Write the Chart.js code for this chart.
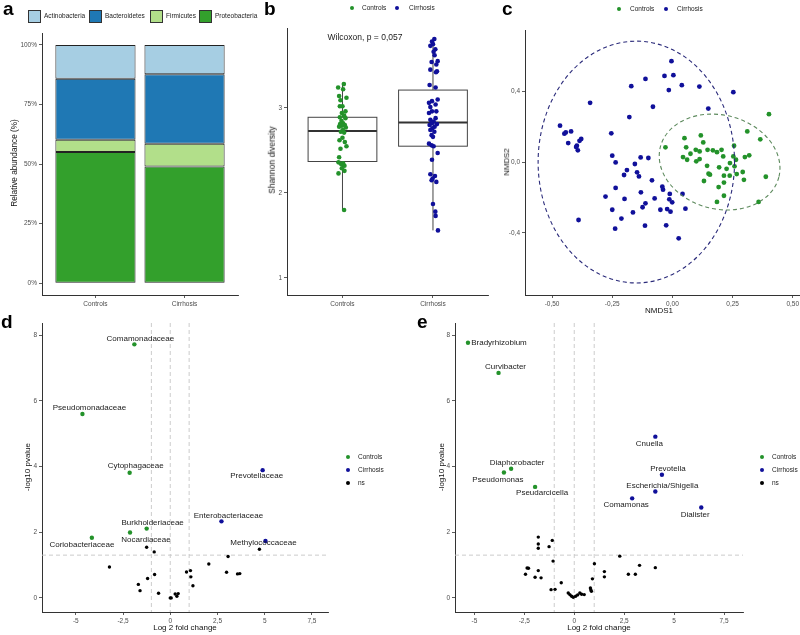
<!DOCTYPE html>
<html><head><meta charset="utf-8">
<script src="https://cdn.jsdelivr.net/npm/chart.js@4.4.0/dist/chart.umd.min.js"></script>
<style>
html,body{margin:0;padding:0;background:#fff;overflow:hidden;width:800px;height:635px;}
body{position:relative;font-family:"Liberation Sans",Arial,Helvetica,sans-serif;}
.t{position:absolute;white-space:nowrap;color:#111;line-height:1;}
.rot{transform:translate(-50%,-50%) rotate(-90deg);}
.ctr{transform:translate(-50%,-50%);}
.lv{transform:translate(0,-50%);}
.lab{position:absolute;font-weight:bold;font-size:19px;line-height:19px;color:#000;}
.dot{position:absolute;border-radius:50%;width:4px;height:4px;transform:translate(-50%,-50%);}
.box{position:absolute;width:11px;height:11px;border:1px solid #333;}
</style></head><body>
<script>
// ---------------- DATA ----------------
// Panel a: relative abundance
const groups = ['Controls', 'Cirrhosis'];
const phyla = ['Proteobacteria', 'Firmicutes', 'Bacteroidetes', 'Actinobacteria'];
const proteobacteria = [0.55, 0.49];
const firmicutes = [0.052, 0.095];
const bacteroidetes = [0.256, 0.292];
const actinobacteria = [0.142, 0.123];
const pctTickVals = [0, 0.25, 0.5, 0.75, 1];
const pctTickLabels = ['0%', '25%', '50%', '75%', '100%'];

// Panel b: Shannon diversity
const shannonControls = [3.28,3.24,3.22,3.14,3.12,3.09,3.02,3.02,2.96,2.94,2.91,2.89,2.88,2.85,2.82,2.81,2.80,2.79,2.78,2.77,2.74,2.72,2.71,2.65,2.62,2.60,2.55,2.52,2.42,2.36,2.35,2.34,2.32,2.29,2.26,2.23,1.80];
const jitterControls = [0.015,-0.048,0.007,-0.037,0.044,-0.022,0,-0.029,0.033,-0.007,0.018,-0.029,0.033,-0.011,0.007,-0.026,0.026,-0.007,-0.037,0.037,0.004,-0.018,0.018,0,-0.033,0.026,0.044,-0.022,-0.037,-0.044,0.007,-0.015,0.022,-0.007,0.022,-0.044,0.018];
const shannonCirrhosis = [3.81,3.78,3.75,3.73,3.69,3.66,3.62,3.55,3.54,3.51,3.45,3.43,3.42,3.27,3.24,3.10,3.08,3.06,3.04,3.01,2.96,2.96,2.94,2.88,2.86,2.84,2.82,2.81,2.80,2.78,2.76,2.74,2.72,2.68,2.66,2.58,2.56,2.55,2.47,2.39,2.22,2.20,2.17,2.15,2.13,1.87,1.78,1.73,1.56];
const jitterCirrhosis = [0.015,-0.011,0,-0.029,0.026,0.007,0.018,0.052,-0.015,0.037,-0.029,0.044,0.033,-0.037,0.029,0.052,-0.011,-0.044,0.029,-0.029,0.037,-0.011,-0.044,0.029,-0.029,0.007,-0.011,0.044,-0.037,0.018,-0.007,-0.029,0.015,-0.015,0,-0.044,-0.015,0.007,0.052,-0.011,-0.029,0.022,-0.004,-0.015,0.037,0,0.026,0.029,0.055];
const boxQ1 = [2.37, 2.55];
const boxMedian = [2.73, 2.83];
const boxQ3 = [2.89, 3.21];
const whiskerLow = [1.80, 1.56];
const whiskerHigh = [3.28, 3.81];
const shannonTickVals = [1, 2, 3];
const shannonTickLabels = ['1', '2', '3'];

// Panel c: NMDS
const nmdsCtrlX = [0.401,0.311,0.365,0.388,0.358,-0.029,0.050,0.118,0.128,0.057,0.044,0.061,0.075,0.097,0.113,0.099,0.113,0.146,0.168,0.185,0.204,0.211,0.256,0.253,0.264,0.301,0.319,0.144,0.150,0.156,0.194,0.225,0.239,0.214,0.238,0.267,0.292,0.297,0.131,0.192,0.214,0.214,0.185,0.258];
const nmdsCtrlY = [0.270,0.173,0.128,-0.083,-0.225,0.083,0.135,0.150,0.111,0.083,0.028,0.013,0.047,0.069,0.060,0.004,0.017,0.069,0.066,0.056,0.069,0.032,0.092,0.032,0.013,0.028,0.038,-0.021,-0.066,-0.071,-0.030,-0.038,-0.006,-0.077,-0.077,-0.068,-0.056,-0.100,-0.107,-0.141,-0.116,-0.190,-0.225,-0.024];
const nmdsCirrX = [-0.004,-0.033,0.004,-0.112,-0.015,0.039,0.112,0.253,-0.171,-0.342,-0.081,0.149,-0.179,-0.467,-0.421,-0.449,-0.443,-0.433,-0.397,-0.379,-0.386,-0.400,-0.393,-0.254,-0.250,-0.236,-0.189,-0.201,-0.156,-0.132,-0.100,-0.147,-0.139,-0.085,-0.236,-0.278,-0.199,-0.131,-0.112,-0.124,-0.074,-0.042,-0.039,-0.011,0.042,-0.013,-0.001,-0.250,-0.164,-0.050,-0.022,-0.008,0.054,-0.212,-0.390,-0.238,-0.114,-0.026,0.026];
const nmdsCirrY = [0.569,0.486,0.490,0.469,0.406,0.434,0.426,0.394,0.428,0.334,0.312,0.302,0.254,0.205,0.173,0.160,0.167,0.107,0.092,0.130,0.120,0.085,0.066,0.162,0.036,-0.002,-0.045,-0.073,-0.011,0.026,0.023,-0.058,-0.081,-0.103,-0.146,-0.195,-0.208,-0.171,-0.233,-0.255,-0.205,-0.139,-0.156,-0.180,-0.180,-0.210,-0.227,-0.269,-0.284,-0.269,-0.265,-0.280,-0.263,-0.319,-0.327,-0.376,-0.359,-0.357,-0.430];
// ellipses: [centerX, centerY, radiusX, radiusY, tilt]
const ellipseCirrhosis = [-0.15, 0.0, 0.408, 0.682, 0];
const ellipseControls = [0.196, 0.0, 0.254, 0.265, 0.25];
const nmds1TickVals = [-0.5, -0.25, 0, 0.25, 0.5];
const nmds1TickLabels = ['-0,50', '-0,25', '0,00', '0,25', '0,50'];
const nmds2TickVals = [-0.4, 0, 0.4];
const nmds2TickLabels = ['-0,4', '0,0', '0,4'];

// Panel d: family-level volcano
const dCtrlNames = ['Comamonadaceae','Pseudomonadaceae','Cytophagaceae','Burkholderiaceae','Nocardiaceae','Coriobacteriaceae'];
const dCtrlX = [-1.90,-4.65,-2.15,-1.25,-2.13,-4.15];
const dCtrlY = [7.72,5.60,3.81,2.11,1.99,1.83];
const dCirrNames = ['Prevotellaceae','Enterobacteriaceae','Methylococcaceae'];
const dCirrX = [4.89,2.71,5.04];
const dCirrY = [3.89,2.33,1.73];
const dNsX = [4.72,-1.25,-0.85,3.06,2.04,-3.22,1.07,0.86,2.98,3.56,3.68,-0.83,1.09,-1.20,1.20,-1.69,-1.60,-0.62,0.26,0.42,0.35,0.0,0.05];
const dNsY = [1.48,1.54,1.40,1.26,1.03,0.94,0.83,0.79,0.78,0.73,0.74,0.71,0.64,0.59,0.37,0.41,0.22,0.14,0.12,0.13,0.05,0.0,0.0];

// Panel e: genus-level volcano
const eCtrlNames = ['Bradyrhizobium','Curvibacter','Diaphorobacter','Pseudomonas','Pseudarcicella'];
const eCtrlX = [-5.32,-3.79,-3.16,-3.52,-1.96];
const eCtrlY = [7.77,6.85,3.93,3.82,3.38];
const eCirrNames = ['Cnuella','Prevotella','Escherichia/Shigella','Comamonas','Dialister'];
const eCirrX = [4.06,4.39,4.06,2.90,6.36];
const eCirrY = [4.91,3.75,3.24,3.03,2.75];
const eNsX = [-1.80,-1.80,-1.80,-1.10,-1.26,2.28,-1.06,1.01,3.27,4.06,-2.36,-2.29,-1.80,1.51,-2.44,2.71,3.06,-1.96,-1.66,1.51,0.91,-0.65,-1.16,-0.96,0.81,0.83,0.86,-0.30,-0.22,-0.13,-0.05,0.07,0.17,0.28,0.37,0.50];
const eNsY = [1.85,1.64,1.51,1.75,1.56,1.27,1.12,1.04,0.99,0.92,0.91,0.90,0.83,0.80,0.72,0.72,0.72,0.63,0.61,0.64,0.58,0.46,0.25,0.26,0.30,0.25,0.20,0.15,0.10,0.05,0.02,0.05,0.09,0.15,0.11,0.10];

const fcTickVals = [-5, -2.5, 0, 2.5, 5, 7.5];
const fcTickLabels = ['-5', '-2,5', '0', '2,5', '5', '7,5'];
const pTickVals = [0, 2, 4, 6, 8];
const pTickLabels = ['0', '2', '4', '6', '8'];
const fcThresholds = [-1, 0, 1];
const pThreshold = 1.301;

// ---------------- STYLE / LAYOUT ----------------
const FONT = '"Liberation Sans", Arial, Helvetica, sans-serif';
const GREEN = '#23922a';
const BLUE = '#10109a';
const phylaColors = ['#33a02c', '#b2df8a', '#1f78b4', '#a6cee3'];
// label offsets in pixels relative to the point
const dCtrlOff = [[6,-6],[7,-6],[6,-7],[6,-6],[16,7],[-10,7]];
const dCirrOff = [[-6,6],[7,-6],[-2,2]];
const eCtrlOff = [[31,0],[7,-6],[6,-6],[-6,7],[7,6]];
const eCirrOff = [[-6,7],[6,-6],[7,-6],[-6,6],[-6,7]];

Chart.defaults.font.family = FONT;
Chart.defaults.animation = false;
Chart.defaults.plugins.legend.display = false;
Chart.defaults.plugins.tooltip.enabled = false;

function mk(L, T, W, H) {
  const c = document.createElement('canvas');
  c.width = W; c.height = H;
  c.style.cssText = `position:absolute;left:${L}px;top:${T}px;width:${W}px;height:${H}px`;
  document.body.appendChild(c);
  return c;
}
function linAxis(o) {
  return {
    type: 'linear', position: o.pos, min: o.min, max: o.max, bounds: 'data', offset: false,
    stacked: !!o.stacked,
    grid: {display: true, offset: false, drawOnChartArea: false, drawTicks: true, tickLength: 3, color: '#333', lineWidth: 0.8},
    border: {display: true, color: '#333', width: 1},
    ticks: {autoSkip: false, maxRotation: 0, minRotation: 0, padding: 2, color: '#4d4d4d',
      font: {size: 6.5, family: FONT}, callback: (v, i) => o.labels[i]},
    afterBuildTicks: s => { s.ticks = o.vals.map(v => ({value: v})); },
    afterFit: s => { if (o.pos === 'bottom') s.height = o.fit; else s.width = o.fit; }
  };
}
function pts(xs, ys) { return xs.map((x, i) => ({x: x, y: ys[i]})); }
function scat(data, color, r) {
  return {type: 'scatter', data: data, pointRadius: r, pointBorderWidth: 0, pointBackgroundColor: color, showLine: false};
}
const common = {responsive: false, animation: false, events: []};

// ---------------- PANEL A ----------------
{
  const L = 0, T = 0, W = 250, H = 315;
  const series = [proteobacteria, firmicutes, bacteroidetes, actinobacteria];
  new Chart(mk(L, T, W, H), {
    type: 'bar',
    data: {datasets: series.map((s, k) => ({
      label: phyla[k], data: groups.map((g, j) => ({x: j + 1, y: s[j]})),
      backgroundColor: phylaColors[k], borderColor: '#222', borderWidth: 1, borderSkipped: false,
      barPercentage: 0.9, categoryPercentage: 1
    }))},
    options: Object.assign({}, common, {
      layout: {padding: {top: 33, right: 12, left: 0, bottom: 0}},
      scales: {
        x: linAxis({pos: 'bottom', min: 0.4, max: 2.6, vals: [1, 2], labels: groups, fit: H - 295, stacked: true}),
        y: linAxis({pos: 'left', min: -0.05, max: 1.05, vals: pctTickVals, labels: pctTickLabels, fit: 42, stacked: true})
      }
    })
  });
}

// ---------------- PANEL B ----------------
{
  const L = 250, T = 0, W = 255, H = 315;
  const boxPlugin = {
    id: 'boxes',
    beforeDatasetsDraw(chart) {
      const c = chart.ctx, xs = chart.scales.x, ys = chart.scales.y;
      c.save();
      for (let i = 0; i < 2; i++) {
        const cx = xs.getPixelForValue(i + 1);
        const x0 = xs.getPixelForValue(i + 1 - 0.38), x1 = xs.getPixelForValue(i + 1 + 0.38);
        const q1 = ys.getPixelForValue(boxQ1[i]), q3 = ys.getPixelForValue(boxQ3[i]);
        const md = ys.getPixelForValue(boxMedian[i]);
        c.strokeStyle = '#444'; c.lineWidth = 1;
        c.beginPath();
        c.moveTo(cx, ys.getPixelForValue(whiskerHigh[i])); c.lineTo(cx, q3);
        c.moveTo(cx, q1); c.lineTo(cx, ys.getPixelForValue(whiskerLow[i]));
        c.stroke();
        c.fillStyle = '#fff';
        c.fillRect(x0, q3, x1 - x0, q1 - q3);
        c.strokeRect(x0, q3, x1 - x0, q1 - q3);
        c.strokeStyle = '#333'; c.lineWidth = 2;
        c.beginPath(); c.moveTo(x0, md); c.lineTo(x1, md); c.stroke();
      }
      c.restore();
    }
  };
  new Chart(mk(L, T, W, H), {
    type: 'scatter',
    data: {datasets: [
      scat(shannonControls.map((v, i) => ({x: 1 + jitterControls[i], y: v})), GREEN, 2.3),
      scat(shannonCirrhosis.map((v, i) => ({x: 2 + jitterCirrhosis[i], y: v})), BLUE, 2.3)
    ]},
    options: Object.assign({}, common, {
      layout: {padding: {top: 28, right: W - (488 - L), left: 0, bottom: 0}},
      scales: {
        x: linAxis({pos: 'bottom', min: 0.387, max: 2.608, vals: [1, 2], labels: groups, fit: H - 295}),
        y: linAxis({pos: 'left', min: 0.8, max: 3.94, vals: shannonTickVals, labels: shannonTickLabels, fit: 287 - L})
      }
    }),
    plugins: [boxPlugin]
  });
}

// ---------------- PANEL C ----------------
{
  const L = 505, T = 0, W = 320, H = 315;
  const ellPlugin = {
    id: 'ell',
    afterDatasetsDraw(chart) {
      const c = chart.ctx, xs = chart.scales.x, ys = chart.scales.y;
      c.save();
      [[ellipseCirrhosis, '#2a2a7a'], [ellipseControls, '#5d8a5d']].forEach(([e, col]) => {
        const cx = xs.getPixelForValue(e[0]), cy = ys.getPixelForValue(e[1]);
        const rx = Math.abs(xs.getPixelForValue(e[0] + e[2]) - cx);
        const ry = Math.abs(ys.getPixelForValue(e[1] + e[3]) - cy);
        c.strokeStyle = col; c.lineWidth = 1.1; c.setLineDash([4, 3]);
        c.beginPath(); c.ellipse(cx, cy, rx, ry, e[4], 0, Math.PI * 2); c.stroke();
      });
      c.restore();
    }
  };
  new Chart(mk(L, T, W, H), {
    type: 'scatter',
    data: {datasets: [
      scat(pts(nmdsCirrX, nmdsCirrY), BLUE, 2.4),
      scat(pts(nmdsCtrlX, nmdsCtrlY), GREEN, 2.4)
    ]},
    options: Object.assign({}, common, {
      layout: {padding: {top: 30, right: W - (800 - L), left: 0, bottom: 0}},
      scales: {
        x: linAxis({pos: 'bottom', min: -0.6125, max: 0.53, vals: nmds1TickVals, labels: nmds1TickLabels, fit: H - 295}),
        y: linAxis({pos: 'left', min: -0.75, max: 0.745, vals: nmds2TickVals, labels: nmds2TickLabels, fit: 525 - L})
      }
    }),
    plugins: [ellPlugin]
  });
}

// ---------------- VOLCANO PANELS ----------------
function volcano(L, T, W, H, ax0, ax1, xmin, xmax, ctrl, cirr, ns) {
  const guide = {
    id: 'guide',
    beforeDatasetsDraw(chart) {
      const c = chart.ctx, xs = chart.scales.x, ys = chart.scales.y, a = chart.chartArea;
      c.save(); c.strokeStyle = '#c6c6c6'; c.lineWidth = 0.9; c.setLineDash([4, 3]);
      c.beginPath();
      fcThresholds.forEach(v => { const x = xs.getPixelForValue(v); c.moveTo(x, a.top); c.lineTo(x, a.bottom); });
      const y = ys.getPixelForValue(pThreshold); c.moveTo(a.left, y); c.lineTo(a.right, y);
      c.stroke(); c.restore();
    }
  };
  const labels = {
    id: 'labels',
    afterDatasetsDraw(chart) {
      const c = chart.ctx, xs = chart.scales.x, ys = chart.scales.y;
      c.save(); c.font = '8px ' + FONT; c.fillStyle = '#1a1a1a'; c.textAlign = 'center'; c.textBaseline = 'middle';
      [ctrl, cirr].forEach(g => g.names.forEach((n, i) => {
        c.fillText(n, xs.getPixelForValue(g.x[i]) + g.off[i][0], ys.getPixelForValue(g.y[i]) + g.off[i][1]);
      }));
      c.restore();
    }
  };
  new Chart(mk(L, T, W, H), {
    type: 'scatter',
    data: {datasets: [
      scat(pts(ns.x, ns.y), '#000', 1.7),
      scat(pts(cirr.x, cirr.y), BLUE, 2.2),
      scat(pts(ctrl.x, ctrl.y), GREEN, 2.2)
    ]},
    options: Object.assign({}, common, {
      layout: {padding: {top: 323 - T, right: W - (ax1 - L), left: 0, bottom: 0}},
      scales: {
        x: linAxis({pos: 'bottom', min: xmin, max: xmax, vals: fcTickVals, labels: fcTickLabels, fit: T + H - 612}),
        y: linAxis({pos: 'left', min: -0.43, max: 8.37, vals: pTickVals, labels: pTickLabels, fit: ax0 - L})
      }
    }),
    plugins: [guide, labels]
  });
}
volcano(0, 310, 400, 325, 42, 328, -6.79, 8.35,
  {names: dCtrlNames, x: dCtrlX, y: dCtrlY, off: dCtrlOff},
  {names: dCirrNames, x: dCirrX, y: dCirrY, off: dCirrOff},
  {x: dNsX, y: dNsY});
volcano(400, 310, 400, 325, 455, 743, -5.97, 8.45,
  {names: eCtrlNames, x: eCtrlX, y: eCtrlY, off: eCtrlOff},
  {names: eCirrNames, x: eCirrX, y: eCirrY, off: eCirrOff},
  {x: eNsX, y: eNsY});

// ---------------- HTML TEXT ----------------
function add(html) { document.body.insertAdjacentHTML('beforeend', html); }
function text(s, x, y, size, cls, color) {
  add(`<div class="t ${cls}" style="left:${x}px;top:${y}px;font-size:${size}px;color:${color || '#111'}">${s}</div>`);
}
// panel letters
[['a', 3, -1], ['b', 264, -1], ['c', 502, -1], ['d', 1, 312], ['e', 417, 312]].forEach(p =>
  add(`<div class="lab" style="left:${p[1]}px;top:${p[2]}px">${p[0]}</div>`));
// legend a (clipped like the original)
{
  const names = ['Actinobacteria', 'Bacteroidetes', 'Firmicutes', 'Proteobacteria'];
  const cols = ['#a6cee3', '#1f78b4', '#b2df8a', '#33a02c'];
  const bx = [28, 89, 150, 199];
  let h = '<div style="position:absolute;left:0;top:0;width:258px;height:30px;overflow:hidden">';
  names.forEach((n, i) => {
    h += `<div class="box" style="left:${bx[i]}px;top:10px;background:${cols[i]}"></div>`;
    h += `<div class="t lv" style="left:${bx[i] + 16}px;top:16px;font-size:6.5px;color:#222">${n}</div>`;
  });
  h += '</div>';
  add(h);
}
function dotLegend(items) {
  items.forEach(it => {
    add(`<div class="dot" style="left:${it[1]}px;top:${it[2]}px;background:${it[3]}"></div>`);
    text(it[0], it[4], it[2], 6.5, 'lv', '#222');
  });
}
dotLegend([['Controls', 352, 8, GREEN, 362], ['Cirrhosis', 397, 8, BLUE, 409]]);
dotLegend([['Controls', 619, 9, GREEN, 630], ['Cirrhosis', 666, 9, BLUE, 677]]);
dotLegend([['Controls', 348, 457, GREEN, 358], ['Cirrhosis', 348, 470, BLUE, 358], ['ns', 348, 483, '#000', 358]]);
dotLegend([['Controls', 762, 457, GREEN, 772], ['Cirrhosis', 762, 470, BLUE, 772], ['ns', 762, 483, '#000', 772]]);
// axis titles
text('Relative abundance (%)', 15, 163, 8.2, 'rot');
text('Shannon diversity', 272, 160, 8.5, 'rot');
text('Wilcoxon, p = 0,057', 365, 37, 8.5, 'ctr', '#1a1a1a');
text('NMDS2', 507, 162, 7.8, 'rot');
text('NMDS1', 659, 311, 8, 'ctr');
text('-log10 pvalue', 28, 467, 8, 'rot');
text('-log10 pvalue', 442, 467, 8, 'rot');
text('Log 2 fold change', 185, 628, 8, 'ctr');
text('Log 2 fold change', 599, 628, 8, 'ctr');
</script>
</body></html>
